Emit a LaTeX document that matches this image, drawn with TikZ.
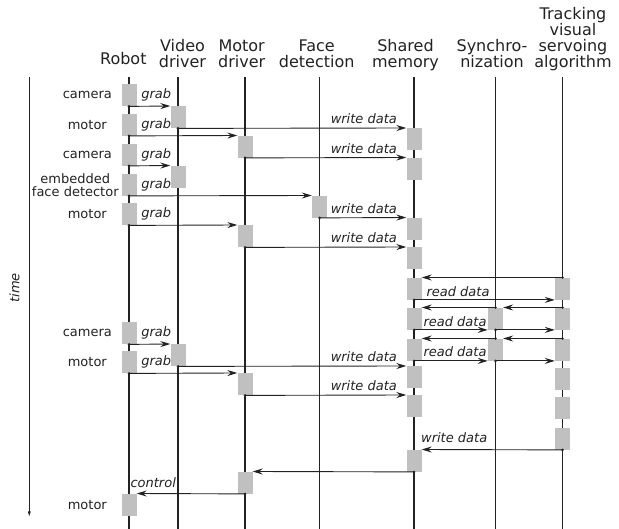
\documentclass[tikz,border=0pt]{standalone}
\usepackage{fontspec}
\setmainfont{DejaVu Sans}
\usetikzlibrary{arrows.meta}
\definecolor{boxgray}{RGB}{192,192,192}
\definecolor{ink}{RGB}{34,34,34}
\begin{document}
\begin{tikzpicture}[x=1pt,y=-1pt,
  life/.style={line width=1.2pt, draw=ink},
  bx/.style={fill=boxgray, draw=none, minimum width=15pt, minimum height=22pt, inner sep=0pt, anchor=north},
  msg/.style={line width=0.9pt, draw=ink, -{Stealth[length=10pt,width=6pt,inset=3.5pt]}},
  head/.style={font=\fontsize{16}{16}\selectfont, align=center, anchor=south, inner sep=0pt, text=ink},
  side/.style={font=\fontsize{13}{13}\selectfont, align=center, inner sep=0pt, text=ink},
  lab/.style={font=\fontsize{13}{13}\selectfont\itshape, inner sep=0pt, text=ink},
  dotc/.style={fill=ink},
]
\useasboundingbox (0,0) rectangle (619,529);

% headers
\node[head] (hR) at (123.3,69.3) {Robot\strut};
\node[head] (hV) at (182.5,72.8) {Video\\driver\strut};
\node[head] (hM) at (241.7,72.8) {Motor\\driver\strut};
\node[head] (hF) at (316.7,72.8) {Face\\detection\strut};
\node[head] (hS) at (405.5,72.8) {Shared\\memory\strut};
\node[head] (hY) at (492,72.8) {Synchro-\\nization\strut};
\node[head] (hT) at (573,72.8) {Tracking\\visual\\servoing\\algorithm\strut};

% time axis
\coordinate (ta) at (29.3,77);
\coordinate (tb) at (29.3,516);
\draw[line width=0.9pt, draw=ink, -{Stealth[length=9pt,width=6pt,inset=5.5pt]}] (ta) -- (tb);
\node[lab, rotate=90] (timelab) at (14.5,288) {time};

% lifelines
\foreach \n/\x in {lR/129, lV/178, lM/245, lF/319.5, lS/414, lY/495.5, lT/562.5}{
  \coordinate (\n top) at (\x,77);
  \coordinate (\n bot) at (\x,529);
  \draw[life] (\n top) -- (\n bot);
}

% activation boxes
\foreach \n/\y in {r1/84, r2/113.5, r3/143.5, r4/173.5, r5/203, r6/322, r7/351, r8/493.5}
  \node[bx] (\n) at (129,\y) {};
\foreach \n/\y in {v1/106, v2/165.5, v3/344}
  \node[bx] (\n) at (178,\y) {};
\foreach \n/\y in {m1/135.5, m2/225, m3/373, m4/471.5}
  \node[bx] (\n) at (245,\y) {};
\node[bx] (f1) at (319.5,195.5) {};
\foreach \n/\y in {s1/128, s2/157.5, s3/217.5, s4/247, s5/277.5, s6/307.5, s7/338.5, s8/366, s9/395, s10/449.5}
  \node[bx] (\n) at (414,\y) {};
\foreach \n/\y in {y1/307.5, y2/338.5}
  \node[bx] (\n) at (495.5,\y) {};
\foreach \n/\y in {t1/277.5, t2/307.5, t3/338.5, t4/368, t5/397, t6/427.5}
  \node[bx] (\n) at (562.5,\y) {};

% messages
\draw[msg] (r1.south) -- (v1.north west);
\draw[msg] (r2.south) -- (m1.north west);
\draw[msg] (v1.south) -- (s1.north west);
\draw[msg] (m1.south) -- (s2.north west);
\draw[msg] (r3.south) -- (v2.north west);
\draw[msg] (r4.south) -- (f1.north west);
\draw[msg] (f1.south) -- (s3.north west);
\draw[msg] (r5.south) -- (m2.north west);
\draw[msg] (m2.south) -- (s4.north west);
\draw[msg] (t1.north) -- (s5.north east);
\draw[msg] (s5.south) -- (t1.south west);
\draw[msg] (t2.north) -- (y1.north east);
\draw[msg] (y1.north) -- (s6.north east);
\draw[msg] (s6.south) -- (y1.south west);
\draw[msg] (y1.south) -- (t2.south west);
\draw[msg] (t3.north) -- (y2.north east);
\draw[msg] (y2.north) -- (s7.north east);
\draw[msg] (s7.south) -- (y2.south west);
\draw[msg] (y2.south) -- (t3.south west);
\draw[msg] (r6.south) -- (v3.north west);
\draw[msg] (r7.south) -- (m3.north west);
\draw[msg] (v3.south) -- (s8.north west);
\draw[msg] (m3.south) -- (s9.north west);
\draw[msg] (t6.south) -- (s10.north east);
\draw[msg] (s10.south) -- (m4.north east);
\draw[msg] (m4.south) -- (r8.north east);

% start dots
\foreach \p in {r1.south, r2.south, v1.south, m1.south, r3.south, r4.south, f1.south, r5.south, m2.south,
  t1.north, s5.south, t2.north, y1.north, s6.south, y1.south, t3.north, y2.north, s7.south, y2.south,
  r6.south, r7.south, v3.south, m3.south, t6.south, s10.south, m4.south}
  \fill[dotc] (\p) circle (1.4);

% side labels
\node[side] (c1) at ([xshift=-34pt]r1.west) {camera};
\node[side] (c2) at ([xshift=-34pt]r2.west) {motor};
\node[side] (c3) at ([xshift=-34pt]r3.west) {camera};
\node[side] (c4) at ([xshift=-46pt]r4.west) {embedded\\face detector};
\node[side] (c5) at ([xshift=-34pt]r5.west) {motor};
\node[side] (c6) at ([xshift=-34pt]r6.west) {camera};
\node[side] (c7) at ([xshift=-34pt]r7.west) {motor};
\node[side] (c8) at ([xshift=-34pt]r8.west) {motor};

% message labels
\foreach \b in {r1,r2,r3,r4,r5,r6,r7}
  \node[lab] (g\b) at ([xshift=19.5pt]\b.east) {grab};
\foreach \b in {s1,s2,s3,s4,s8,s9}
  \node[lab] (w\b) at ([xshift=-42.5pt,yshift=9pt]\b.north west) {write data};
\node[lab] (rd1) at ([xshift=44pt,yshift=8.5pt]s5.south) {read data};
\node[lab] (rd2) at ([xshift=41pt,yshift=8.5pt]s6.south) {read data};
\node[lab] (rd3) at ([xshift=41pt,yshift=9pt]s7.south) {read data};
\node[lab] (wd10) at ([xshift=32.5pt,yshift=12pt]s10.north east) {write data};
\node[lab] (ctl) at ([xshift=16.5pt,yshift=11pt]r8.north east) {control};
\end{tikzpicture}
\end{document}
